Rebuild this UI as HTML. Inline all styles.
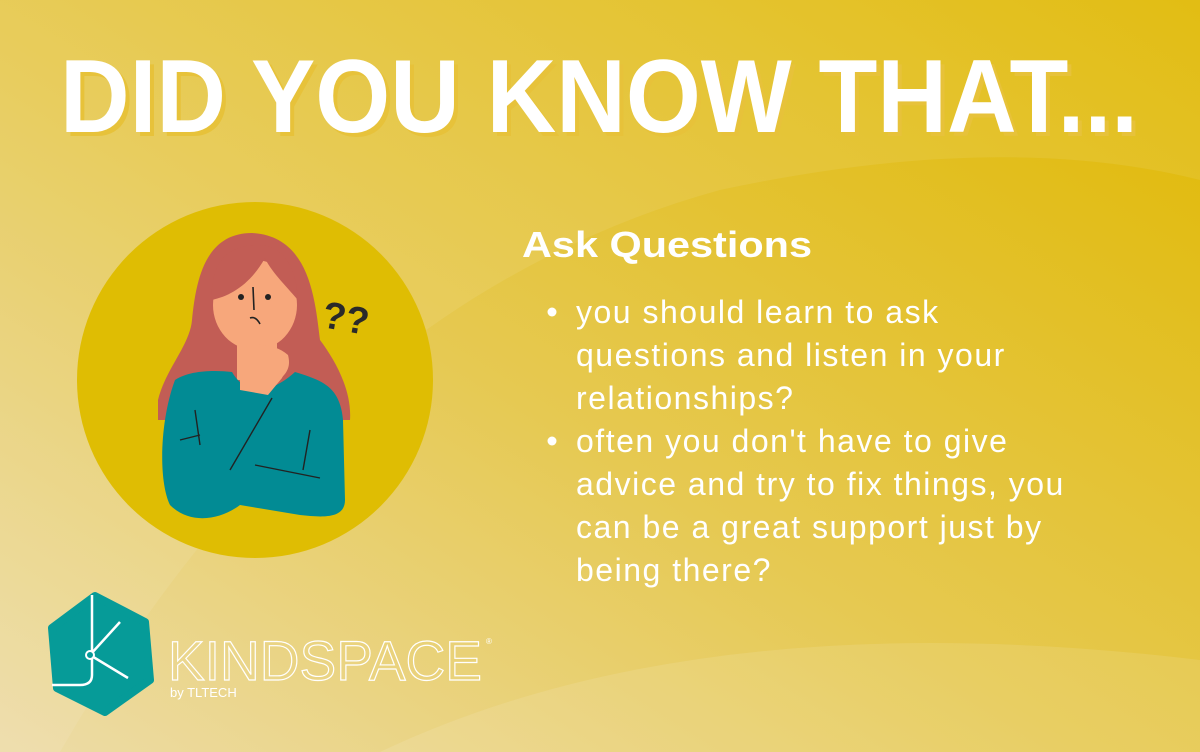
<!DOCTYPE html>
<html><head><meta charset="utf-8"><style>
html,body{margin:0;padding:0}
body{width:1200px;height:752px;overflow:hidden;font-family:"Liberation Sans",sans-serif}
svg{display:block}
</style></head><body>
<svg width="1200" height="752" viewBox="0 0 1200 752" xmlns="http://www.w3.org/2000/svg">
<defs>
<linearGradient id="bg" x1="0" y1="1" x2="1" y2="0">
<stop offset="0" stop-color="#eddca8"/>
<stop offset="0.45" stop-color="#e6c952"/>
<stop offset="1" stop-color="#e0b800"/>
</linearGradient>
</defs>
<rect width="1200" height="752" fill="url(#bg)"/>
<path d="M60 752 Q320 300 720 190 Q1000 130 1200 180 L1200 0 L0 0 L0 752 Z" fill="#ffffff" opacity="0.08"/>
<path d="M380 752 Q700 600 1200 660 L1200 752 Z" fill="#ffffff" opacity="0.1"/>

<text x="64" y="136" textLength="1078" lengthAdjust="spacingAndGlyphs" font-family="Liberation Sans" font-weight="bold" font-size="104" fill="#e7c23a">DID YOU KNOW THAT...</text>
<text x="60" y="132" textLength="1078" lengthAdjust="spacingAndGlyphs" font-family="Liberation Sans" font-weight="bold" font-size="104" fill="#ffffff">DID YOU KNOW THAT...</text>

<g>
<circle cx="255" cy="380" r="178" fill="#dfbd03"/>
<path d="M252 233 C205 233 196 280 192 320 C190 345 165 370 158 400 L158 420 L350 420 C352 390 335 360 320 340 C315 300 310 236 252 233 Z" fill="#c25d55"/>
<ellipse cx="255" cy="305" rx="42" ry="45" fill="#f7a77b"/>
<path d="M212 300 C210 260 230 245 258 245 C280 245 296 262 298 300 C285 285 270 270 265 258 C250 285 230 296 212 300 Z" fill="#c25d55"/>
<rect x="237" y="335" width="40" height="45" fill="#f7a77b"/>
<circle cx="241" cy="297" r="3" fill="#222"/><circle cx="268" cy="297" r="3" fill="#222"/>
<path d="M253 287 L254 310 M250 318 Q256 316 260 324" stroke="#222" stroke-width="1.6" fill="none"/>
<path d="M175 380 C190 370 215 370 232 372 C245 395 270 395 295 372 C320 380 340 385 343 420 L345 500 C345 520 320 517 300 515 L240 505 C220 520 190 525 170 505 C158 480 160 420 175 380 Z" fill="#028b94"/>
<path d="M240 350 C250 342 275 343 288 355 C292 370 283 375 282 378 L268 395 L240 390 Z" fill="#f7a77b"/>
<path d="M272 398 L230 470 M180 440 L200 435 M195 410 L200 445 M255 465 L320 478 M310 430 L303 470" stroke="#222" stroke-width="1.4" fill="none"/>
<text x="324" y="330" font-family="Liberation Sans" font-weight="bold" font-size="38" fill="#2a2a2a" transform="rotate(10 340 310)">??</text>
</g>

<text x="522" y="257" textLength="290" lengthAdjust="spacingAndGlyphs" font-family="Liberation Sans" font-weight="bold" font-size="36" fill="#ffffff">Ask Questions</text>
<g font-family="Liberation Sans" font-size="32" letter-spacing="1.5" fill="#ffffff">
<circle cx="552" cy="312" r="4.5"/>
<text x="576" y="323">you should learn to ask</text>
<text x="576" y="366">questions and listen in your</text>
<text x="576" y="409">relationships?</text>
<circle cx="552" cy="441" r="4.5"/>
<text x="576" y="452">often you don't have to give</text>
<text x="576" y="495">advice and try to fix things, you</text>
<text x="576" y="538">can be a great support just by</text>
<text x="576" y="581">being there?</text>
</g>

<g>
<path d="M95 596 L145 622 L150 680 L105 712 L57 688 L52 628 Z" fill="#069b98" stroke="#069b98" stroke-width="8" stroke-linejoin="round"/>
<path d="M92 595 L92 675 Q92 685 80 685 L52 685 M90 655 L120 622 M90 655 L128 678" stroke="#fff" stroke-width="2.5" fill="none"/>
<circle cx="90" cy="655" r="4" fill="#069b98" stroke="#fff" stroke-width="2"/>
<text x="168" y="680" textLength="314" lengthAdjust="spacingAndGlyphs" font-family="Liberation Sans" font-size="56" fill="none" stroke="#fff" stroke-width="1.2">KINDSPACE</text>
<text x="486" y="644" font-size="8" fill="#fff">®</text>
<text x="170" y="697" font-family="Liberation Sans" font-size="13" fill="#fff">by TLTECH</text>
</g>
</svg>
</body></html>
